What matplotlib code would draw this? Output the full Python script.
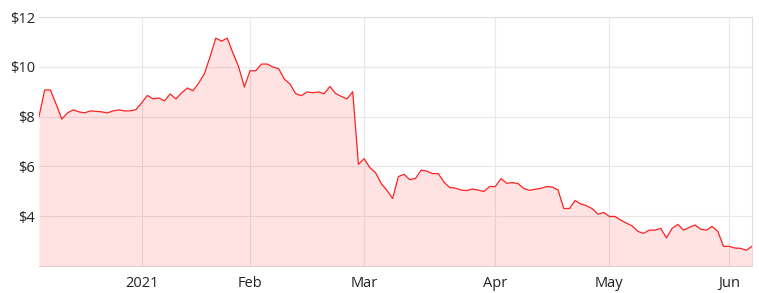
import matplotlib
matplotlib.use("Agg")
import matplotlib.pyplot as plt
import numpy as np

# Daily closing price (one value per trading day, Dec 2020 - Jun 2021)
prices = [
    8.00, 9.07, 9.07, 8.50, 7.90, 8.15, 8.27, 8.19, 8.15, 8.23,
    8.21, 8.19, 8.15, 8.23, 8.27, 8.23, 8.23, 8.28, 8.55, 8.85,
    8.71, 8.75, 8.63, 8.91, 8.71, 8.95, 9.15, 9.04, 9.35, 9.72,
    10.41, 11.15, 11.03, 11.15, 10.55, 10.00, 9.19, 9.84, 9.84, 10.11,
    10.11, 9.99, 9.93, 9.51, 9.31, 8.92, 8.84, 8.99, 8.96, 8.99,
    8.92, 9.21, 8.93, 8.81, 8.71, 9.00, 6.08, 6.31, 5.95, 5.75,
    5.31, 5.04, 4.71, 5.59, 5.68, 5.47, 5.51, 5.85, 5.81, 5.71,
    5.71, 5.37, 5.15, 5.13, 5.05, 5.03, 5.09, 5.05, 4.99, 5.19,
    5.19, 5.51, 5.32, 5.35, 5.31, 5.11, 5.04, 5.08, 5.12, 5.19,
    5.17, 5.05, 4.31, 4.31, 4.63, 4.49, 4.42, 4.30, 4.08, 4.15,
    3.99, 3.99, 3.84, 3.72, 3.61, 3.39, 3.31, 3.44, 3.44, 3.51,
    3.13, 3.51, 3.67, 3.44, 3.55, 3.65, 3.48, 3.44, 3.59, 3.39,
    2.79, 2.79, 2.72, 2.71, 2.63, 2.79,
]

# trading-day index of the first session of each month
month_ticks = [18, 37, 57, 80, 100, 121]
month_labels = ['2021', 'Feb', 'Mar', 'Apr', 'May', 'Jun']

price_ticks = [4, 6, 8, 10, 12]
price_labels = ['$4', '$6', '$8', '$10', '$12']

plt.rcParams['font.family'] = ['Open Sans', 'DejaVu Sans']

fig = plt.figure(figsize=(7.59, 2.93), dpi=100)
ax = fig.add_axes([39 / 759, 27 / 293, 713 / 759, 249 / 293])

x = np.arange(len(prices))
ax.fill_between(x, prices, 2, color=(1.0, 0.0, 0.0, 0.11), lw=0, zorder=2)
ax.plot(x, prices, color='#ff2020', lw=0.9, zorder=3)

ax.set_xlim(0, len(prices) - 1)
ax.set_ylim(2, 12)
ax.set_xticks(month_ticks)
ax.set_xticklabels(month_labels)
ax.set_yticks(price_ticks)
ax.set_yticklabels(price_labels)

ax.grid(True, color='#e8e8e8', lw=0.8, zorder=1)
ax.set_axisbelow(True)
ax.tick_params(length=0, labelsize=10.5, colors='#222222')
ax.tick_params(axis='x', pad=7)
ax.tick_params(axis='y', pad=3)

for side in ['top', 'right']:
    ax.spines[side].set_color('#dddddd')
    ax.spines[side].set_linewidth(0.8)
ax.spines['left'].set_visible(False)
ax.spines['bottom'].set_color('#e6cfcf')
ax.spines['bottom'].set_linewidth(0.8)

fig.savefig('out.png', dpi=100)
